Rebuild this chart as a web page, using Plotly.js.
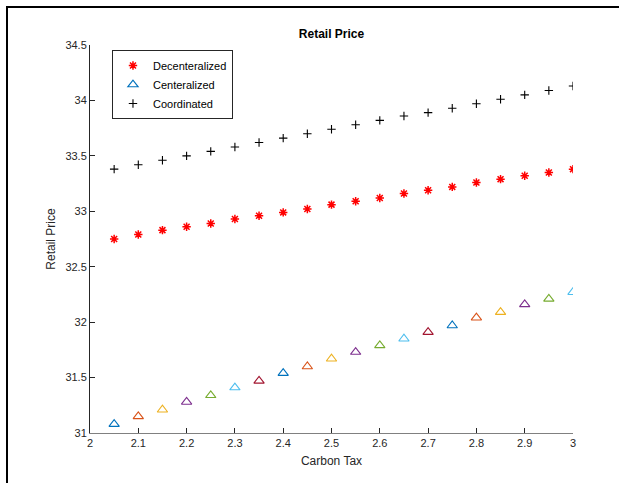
<!DOCTYPE html>
<html>
<head>
<meta charset="utf-8">
<script src="https://cdn.plot.ly/plotly-3.0.1.min.js"></script>
<style>
  html, body { margin: 0; padding: 0; background: #fff; }
  #wrap { position: relative; width: 619px; height: 483px; overflow: hidden; }
  #chart { width: 619px; height: 483px; }
  #frame { position: absolute; left: 6px; top: 6px; width: 700px; height: 600px;
           border-left: 2px solid #000; border-top: 2px solid #000; pointer-events: none; }
</style>
</head>
<body>
<div id="wrap">
  <div id="chart"></div>
  <div id="frame"></div>
</div>
<script>
const carbonTax = [2.05, 2.10, 2.15, 2.20, 2.25, 2.30, 2.35, 2.40, 2.45, 2.50,
                   2.55, 2.60, 2.65, 2.70, 2.75, 2.80, 2.85, 2.90, 2.95, 3.00];
const decentralized = [32.75, 32.79, 32.83, 32.86, 32.89, 32.93, 32.96, 32.99, 33.02, 33.06,
                       33.09, 33.12, 33.16, 33.19, 33.22, 33.26, 33.29, 33.32, 33.35, 33.38];
const centralized = [31.08, 31.15, 31.21, 31.28, 31.34, 31.41, 31.47, 31.54, 31.60, 31.67,
                     31.73, 31.79, 31.85, 31.91, 31.97, 32.04, 32.09, 32.16, 32.21, 32.27];
const coordinated = [33.38, 33.42, 33.46, 33.50, 33.54, 33.58, 33.62, 33.66, 33.70, 33.74,
                     33.78, 33.82, 33.86, 33.89, 33.93, 33.97, 34.01, 34.05, 34.09, 34.13];
const seriesNames = ['Decenteralized', 'Centeralized', 'Coordinated'];
const xTicks = [2, 2.1, 2.2, 2.3, 2.4, 2.5, 2.6, 2.7, 2.8, 2.9, 3];
const yTicks = [31, 31.5, 32, 32.5, 33, 33.5, 34, 34.5];
const colorCycle = ['#0072BD', '#D95319', '#EDB120', '#7E2F8E', '#77AC30', '#4DBEEE', '#A2142F'];

const triColors = carbonTax.map((_, i) => colorCycle[i % colorCycle.length]);

const traces = [
  {
    x: carbonTax, y: decentralized, name: seriesNames[0], type: 'scatter', mode: 'markers',
    marker: { symbol: 'asterisk-open', size: 7, color: '#FF0000', line: { color: '#FF0000', width: 1.5 } }
  },
  {
    x: carbonTax, y: centralized, name: seriesNames[1], type: 'scatter', mode: 'markers',
    marker: { symbol: 'triangle-up-open', size: 9, color: triColors, line: { color: triColors, width: 1.1 } }
  },
  {
    x: carbonTax, y: coordinated, name: seriesNames[2], type: 'scatter', mode: 'markers',
    marker: { symbol: 'cross-thin-open', size: 6, color: '#000000', line: { color: '#000000', width: 1.1 } }
  }
];

const layout = {
  width: 619, height: 483,
  margin: { l: 90, r: 46, t: 45, b: 50 },
  paper_bgcolor: '#ffffff', plot_bgcolor: '#ffffff',
  font: { family: 'Liberation Sans, Arial, sans-serif', size: 11, color: '#262626' },
  title: { text: '<b>Retail Price</b>', x: 0.5, xanchor: 'center', y: 0.93, yanchor: 'middle',
           xref: 'paper', font: { size: 12, color: '#000000' } },
  xaxis: {
    range: [2, 3], tickvals: xTicks, ticktext: xTicks.map(String),
    showgrid: false, zeroline: false, showline: true, linecolor: '#808080', linewidth: 1,
    ticks: 'inside', ticklen: 5, tickcolor: '#262626', tickwidth: 1,
    title: { text: 'Carbon Tax', font: { size: 12, color: '#262626' }, standoff: 8 },
    mirror: false
  },
  yaxis: {
    range: [31, 34.5], tickvals: yTicks, ticktext: yTicks.map(String),
    showgrid: false, zeroline: false, showline: true, linecolor: '#262626', linewidth: 1,
    ticks: 'inside', ticklen: 5, tickcolor: '#262626', tickwidth: 1,
    title: { text: 'Retail Price', font: { size: 12, color: '#262626' }, standoff: 7 },
    mirror: false
  },
  showlegend: true,
  legend: {
    x: 0.0455, y: 0.987, xanchor: 'left', yanchor: 'top',
    bgcolor: '#ffffff', bordercolor: '#262626', borderwidth: 1,
    font: { size: 11, color: '#000000' }
  }
};

Plotly.newPlot('chart', traces, layout, { displayModeBar: false, staticPlot: true });
</script>
</body>
</html>
